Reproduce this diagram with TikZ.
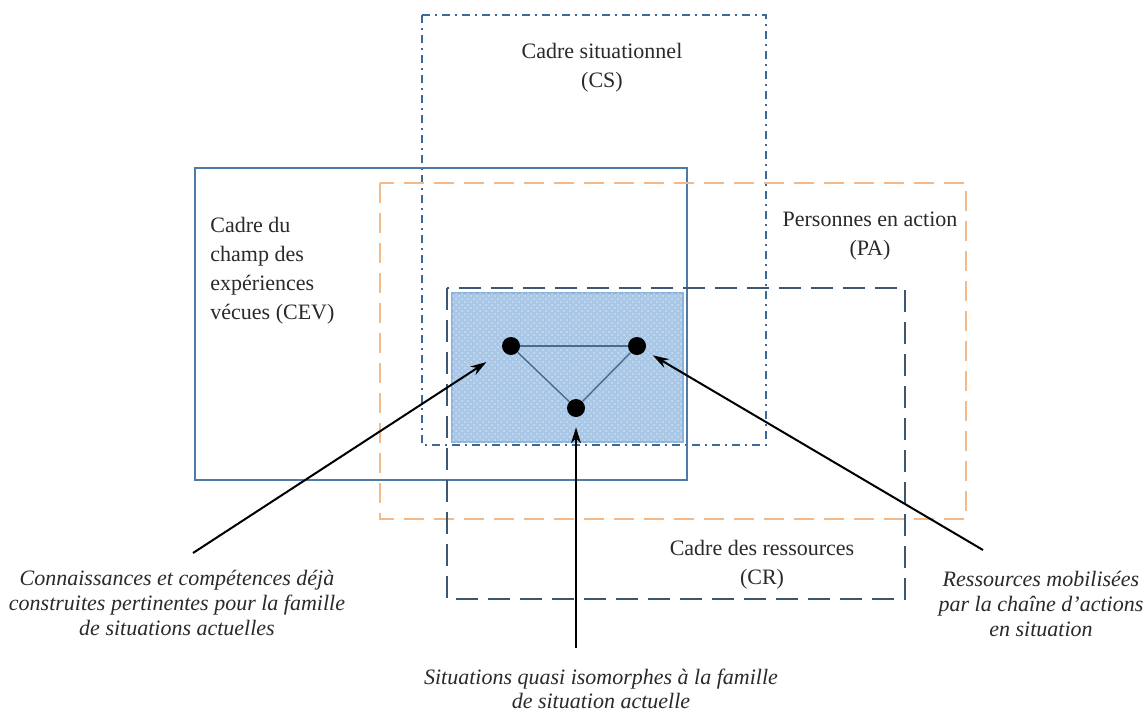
\documentclass[tikz,border=0pt]{standalone}
\usepackage{fontspec}
\setmainfont{Liberation Serif}
\usetikzlibrary{positioning,patterns,arrows.meta}

\definecolor{csblue}{HTML}{3B6A9A}
\definecolor{cevblue}{HTML}{4D7AA6}
\definecolor{paorange}{HTML}{F3B989}
\definecolor{crslate}{HTML}{3F5670}
\definecolor{shadeblue}{HTML}{A9C7E6}
\definecolor{shadeedge}{HTML}{8FB3DA}
\definecolor{triline}{HTML}{4A6C90}
\definecolor{txtgray}{HTML}{2A2A2A}

\begin{document}
\begin{tikzpicture}[x=0.5pt, y=-0.5pt, node distance=63pt, >={Stealth[length=8pt,width=5pt]},
frame text/.style={font=\fontsize{11}{14.5}\selectfont, text=txtgray, align=center, inner sep=0pt},
note text/.style={font=\fontsize{11}{12.3}\selectfont\itshape, text=txtgray, align=center, inner sep=0pt},
dot node/.style={circle, fill=black, inner sep=0pt, minimum size=9pt}]

\fill[white] (0,0) rectangle (1144,713);
\useasboundingbox (0,0) rectangle (1144,713);

% shaded zone
\draw[shadeedge, line width=0.8pt, fill=shadeblue, postaction={pattern=crosshatch dots, pattern color=shadeblue!55!white}] (452,293) rectangle (683,442);

% frames
\draw[csblue, line width=0.8pt, dash pattern=on 4pt off 2.5pt on 1pt off 2.5pt] (422,15) rectangle (766,445);
\draw[cevblue, line width=1pt] (195,168) rectangle (687,480);
\draw[paorange, line width=1.4pt, dash pattern=on 10pt off 5pt] (380,183) rectangle (966,519);
\draw[crslate, line width=1.1pt, dash pattern=on 11pt off 5pt] (447,288) rectangle (905,599);

\node[frame text] (CS) at (602,68) {Cadre situationnel\\(CS)};
\node[frame text] [align=left, anchor=west] (CEV) at (210,271) {Cadre du\\champ des\\expériences\\vécues (CEV)};
\node[frame text] (PA) at (870,236) {Personnes en action\\(PA)};
\node[frame text] (CR) at (762,565) {Cadre des ressources\\(CR)};

\node[dot node] (D1) at (511,346) {};
\node[dot node] (D2) [right of=D1] {};
\node[dot node] (D3) at (576,408) {};

\node[note text] (KL) at (177,603) {Connaissances et compétences déjà\\construites pertinentes pour la famille\\de situations actuelles};
\node[note text] (SQ) at (601,689) {Situations quasi isomorphes à la famille\\de situation actuelle};
\node[note text] (RM) at (1041,604) {Ressources mobilisées\\par la chaîne d'actions\\en situation};

\coordinate (tL) at (193,553);
\coordinate (tM) at (576,648);
\coordinate (tR) at (983,550);

\path[triline, line width=0.7pt]
(D1) edge (D2)
(D1) edge (D3)
(D2) edge (D3);

\path[black, line width=1pt]
(tL) [->] edge [shorten >=10pt] (D1)
(tM) [->] edge [shorten >=5pt] (D3)
(tR) [->] edge [shorten >=4.5pt] (D2);
\end{tikzpicture}
\end{document}
